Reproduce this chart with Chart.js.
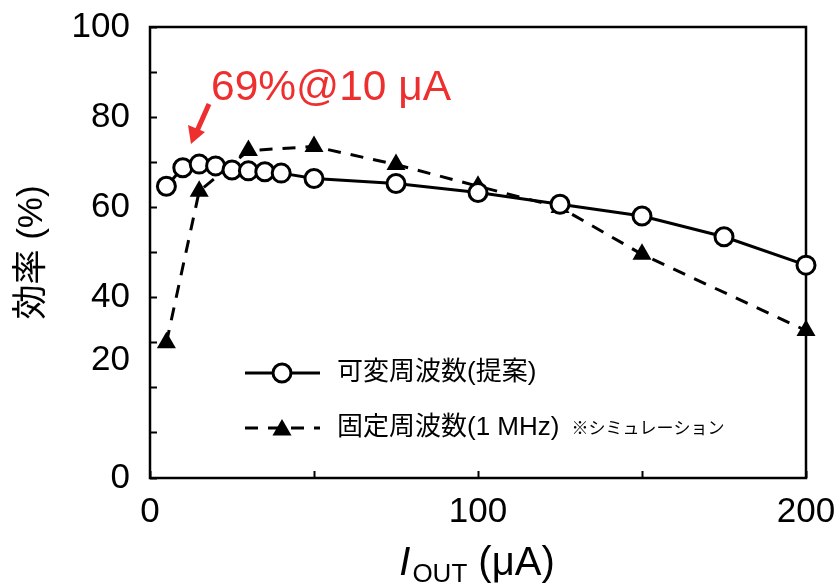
<!DOCTYPE html>
<html>
<head>
<meta charset="utf-8">
<script src="https://cdn.jsdelivr.net/npm/chart.js@4.4.1/dist/chart.umd.min.js"></script>
<style>
  html, body { margin: 0; padding: 0; background: #fff; }
</style>
</head>
<body>
<canvas id="effChart" width="839" height="585"></canvas>
<script>
// 可変周波数(提案)
const varCurrent = [5, 10, 15, 20, 25, 30, 35, 40, 50, 75, 100, 125, 150, 175, 200];
const varEff = [64.7, 68.8, 69.6, 69.2, 68.3, 68.1, 67.9, 67.6, 66.4, 65.3, 63.3, 60.7, 58.1, 53.5, 47.2];

// 固定周波数(1 MHz) シミュレーション
const fixCurrent = [5, 15, 30, 50, 75, 100, 125, 150, 200];
const fixEff = [30.0, 63.6, 72.6, 73.5, 69.5, 64.7, 60.0, 49.6, 32.7];

// 軸目盛り
const xTickValues = [0, 50, 100, 150, 200];
const xTickLabels = ['0', '', '100', '', '200'];
const yMinorTicks = [0, 10, 20, 30, 40, 50, 60, 70, 80, 90, 100];
const yLabelPos = [0, 26, 40, 60, 80, 100];
const yLabelText = ['0', '20', '40', '60', '80', '100'];

const FONT = "'Liberation Sans', Arial, 'Noto Sans CJK JP', sans-serif";
const RED = '#ee2f2f';

function toPoints(xs, ys) {
    return xs.map((x, i) => ({ x: x, y: ys[i] }));
}

function drawTriangle(ctx, x, y, r) {
    ctx.beginPath();
    ctx.moveTo(x, y - r);
    ctx.lineTo(x + r * 0.866, y + r * 0.5);
    ctx.lineTo(x - r * 0.866, y + r * 0.5);
    ctx.closePath();
    ctx.fill();
}

// 枠線
const framePlugin = {
    id: 'frame',
    beforeDatasetsDraw(chart) {
        const { ctx, chartArea: a } = chart;
        ctx.save();
        ctx.strokeStyle = '#000';
        ctx.lineWidth = 2.5;
        ctx.strokeRect(a.left, a.top, a.right - a.left, a.bottom - a.top);
        ctx.restore();
    }
};

// 凡例・注釈・X軸タイトル
const extrasPlugin = {
    id: 'extras',
    afterDatasetsDraw(chart) {
        const ctx = chart.ctx;
        ctx.save();

        // 凡例 1
        ctx.strokeStyle = '#000';
        ctx.lineWidth = 3;
        ctx.beginPath();
        ctx.moveTo(245, 373);
        ctx.lineTo(320, 373);
        ctx.stroke();
        ctx.beginPath();
        ctx.arc(282, 373, 9, 0, Math.PI * 2);
        ctx.fillStyle = '#fff';
        ctx.fill();
        ctx.stroke();

        // 凡例 2
        ctx.setLineDash([13, 10]);
        ctx.beginPath();
        ctx.moveTo(245, 428);
        ctx.lineTo(320, 428);
        ctx.stroke();
        ctx.setLineDash([]);
        ctx.fillStyle = '#000';
        drawTriangle(ctx, 282, 430, 11);

        ctx.fillStyle = '#000';
        ctx.textBaseline = 'middle';
        ctx.textAlign = 'left';
        ctx.font = '26px ' + FONT;
        ctx.fillText('可変周波数(提案)', 337, 373);
        ctx.fillText('固定周波数(1 MHz)', 337, 428);
        const w2 = ctx.measureText('固定周波数(1 MHz)').width;
        ctx.font = '17px ' + FONT;
        ctx.fillText('※シミュレーション', 337 + w2 + 12, 429);

        // 注釈
        ctx.fillStyle = RED;
        ctx.textBaseline = 'alphabetic';
        ctx.font = '42.5px ' + FONT;
        ctx.fillText('69%@10 μA', 211, 100);
        ctx.strokeStyle = RED;
        ctx.lineWidth = 5;
        ctx.beginPath();
        ctx.moveTo(209, 104);
        ctx.lineTo(197, 131);
        ctx.stroke();
        ctx.beginPath();
        ctx.moveTo(191, 144);
        ctx.lineTo(188, 125);
        ctx.lineTo(205, 132);
        ctx.closePath();
        ctx.fill();

        // X軸タイトル
        ctx.fillStyle = '#000';
        const big = '40px ' + FONT;
        const sub = '26px ' + FONT;
        ctx.font = 'italic ' + big;
        const wI = ctx.measureText('I').width;
        ctx.font = sub;
        const wS = ctx.measureText('OUT').width;
        ctx.font = big;
        const wR = ctx.measureText(' (μA)').width;
        let x = 477 - (wI + 2 + wS + wR) / 2;
        ctx.font = 'italic ' + big;
        ctx.fillText('I', x, 575);
        x += wI + 2;
        ctx.font = sub;
        ctx.fillText('OUT', x, 582);
        x += wS;
        ctx.font = big;
        ctx.fillText(' (μA)', x, 575);

        ctx.restore();
    }
};

new Chart(document.getElementById('effChart'), {
    type: 'line',
    data: {
        datasets: [
            {
                label: '可変周波数(提案)',
                data: toPoints(varCurrent, varEff),
                borderColor: '#000',
                borderWidth: 3,
                pointStyle: 'circle',
                pointRadius: 9,
                pointBorderWidth: 3,
                pointBackgroundColor: '#fff',
                pointBorderColor: '#000',
                tension: 0,
                clip: false,
                order: 1
            },
            {
                label: '固定周波数(1 MHz)',
                data: toPoints(fixCurrent, fixEff),
                borderColor: '#000',
                borderWidth: 3,
                borderDash: [13, 10],
                pointStyle: 'triangle',
                pointRadius: 11,
                pointBorderWidth: 0,
                pointBackgroundColor: '#000',
                pointBorderColor: '#000',
                tension: 0,
                clip: false,
                order: 2
            }
        ]
    },
    options: {
        responsive: false,
        animation: false,
        devicePixelRatio: 1,
        layout: { padding: { top: 27, right: 33, left: 0, bottom: 0 } },
        plugins: {
            legend: { display: false },
            tooltip: { enabled: false }
        },
        scales: {
            x: {
                type: 'linear',
                min: 0,
                max: 200,
                afterBuildTicks: s => { s.ticks = xTickValues.map(v => ({ value: v })); },
                afterFit: s => {
                    s.height = 107;
                    s.paddingLeft = 0;
                    s.paddingRight = 0;
                },
                ticks: {
                    color: '#000',
                    font: { family: FONT, size: 35 },
                    padding: 20,
                    maxRotation: 0,
                    autoSkip: false,
                    callback: v => xTickLabels[xTickValues.indexOf(v)]
                },
                grid: {
                    drawOnChartArea: false,
                    drawTicks: true,
                    tickLength: -7,
                    tickWidth: 2,
                    tickColor: '#000'
                },
                border: { display: false }
            },
            y: {
                type: 'linear',
                min: 0,
                max: 100,
                afterBuildTicks: s => {
                    const vals = Array.from(new Set(yMinorTicks.concat(yLabelPos))).sort((a, b) => a - b);
                    s.ticks = vals.map(v => ({ value: v }));
                },
                afterFit: s => {
                    s.width = 150;
                    s.paddingTop = 0;
                    s.paddingBottom = 0;
                },
                ticks: {
                    color: '#000',
                    font: { family: FONT, size: 35 },
                    padding: 27,
                    autoSkip: false,
                    callback: v => {
                        const i = yLabelPos.indexOf(v);
                        return i >= 0 ? yLabelText[i] : '';
                    }
                },
                grid: {
                    drawOnChartArea: false,
                    drawTicks: true,
                    tickLength: -7,
                    tickWidth: 2,
                    tickColor: c => yMinorTicks.includes(c.tick.value) ? '#000' : 'rgba(0,0,0,0)'
                },
                border: { display: false },
                title: {
                    display: true,
                    text: '効率 (%)',
                    color: '#000',
                    font: { family: FONT, size: 35 },
                    padding: { top: 11, bottom: 0 }
                }
            }
        }
    },
    plugins: [framePlugin, extrasPlugin]
});
</script>
</body>
</html>
